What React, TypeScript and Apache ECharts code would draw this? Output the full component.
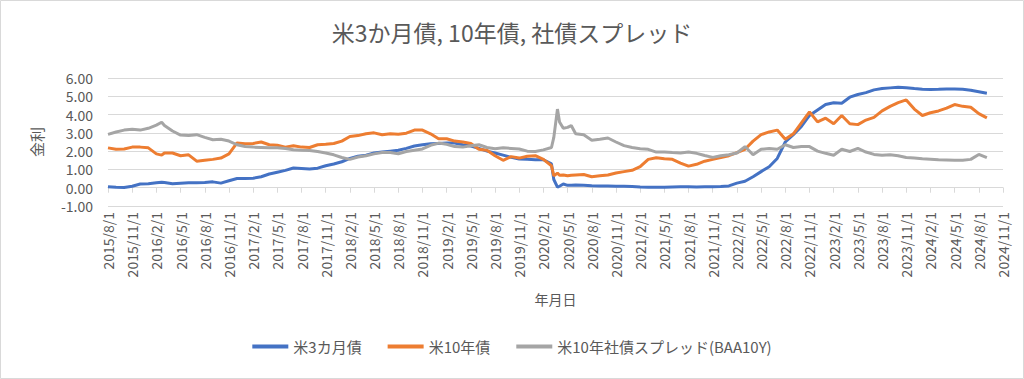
import React, { useEffect, useRef } from "react";
import * as echarts from "echarts";

// Observation dates (monthly, with a few extra points where the series move sharply)
const dates: string[] = [
  "2015-08-01", "2015-09-01", "2015-10-01", "2015-11-01", "2015-12-01",
  "2016-01-01", "2016-02-01", "2016-02-20", "2016-03-01", "2016-04-01", "2016-05-01", "2016-06-01", "2016-07-01", "2016-08-01", "2016-09-01", "2016-10-01", "2016-11-01", "2016-12-01",
  "2017-01-01", "2017-02-01", "2017-03-01", "2017-04-01", "2017-05-01", "2017-06-01", "2017-07-01", "2017-08-01", "2017-09-01", "2017-10-01", "2017-11-01", "2017-12-01",
  "2018-01-01", "2018-02-01", "2018-03-01", "2018-04-01", "2018-05-01", "2018-06-01", "2018-07-01", "2018-08-01", "2018-09-01", "2018-10-01", "2018-11-01", "2018-12-01",
  "2019-01-01", "2019-02-01", "2019-03-01", "2019-04-01", "2019-05-01", "2019-06-01", "2019-07-01", "2019-08-01", "2019-09-01", "2019-10-01", "2019-11-01", "2019-12-01",
  "2020-01-01", "2020-02-01", "2020-03-01", "2020-03-10", "2020-03-24", "2020-04-01", "2020-04-15", "2020-05-01", "2020-05-15", "2020-06-01", "2020-07-01", "2020-08-01", "2020-09-01", "2020-10-01", "2020-11-01", "2020-12-01",
  "2021-01-01", "2021-02-01", "2021-03-01", "2021-04-01", "2021-05-01", "2021-06-01", "2021-07-01", "2021-08-01", "2021-09-01", "2021-10-01", "2021-11-01", "2021-12-01",
  "2022-01-01", "2022-02-01", "2022-03-01", "2022-04-01", "2022-05-01", "2022-06-01", "2022-07-01", "2022-08-01", "2022-09-01", "2022-10-01", "2022-11-01", "2022-12-01",
  "2023-01-01", "2023-02-01", "2023-03-01", "2023-04-01", "2023-05-01", "2023-06-01", "2023-07-01", "2023-08-01", "2023-09-01", "2023-10-01", "2023-11-01", "2023-12-01",
  "2024-01-01", "2024-02-01", "2024-03-01", "2024-04-01", "2024-05-01", "2024-06-01", "2024-07-01", "2024-08-01", "2024-09-01",
];

// 米3カ月債
const bill3m: number[] = [
  0.05, 0.02, 0.01, 0.08, 0.20,
  0.22, 0.27, 0.30, 0.28, 0.22, 0.25, 0.27, 0.27, 0.28, 0.32, 0.25, 0.38, 0.50,
  0.51, 0.52, 0.60, 0.75, 0.85, 0.95, 1.08, 1.05, 1.02, 1.07, 1.20, 1.30,
  1.42, 1.60, 1.72, 1.78, 1.90, 1.95, 2.00, 2.05, 2.15, 2.28, 2.35, 2.40,
  2.42, 2.44, 2.44, 2.35, 2.28, 2.15, 2.00, 1.90, 1.78, 1.66, 1.57, 1.55,
  1.53, 1.53, 1.30, 0.45, 0.03, 0.08, 0.20, 0.13, 0.13, 0.15, 0.13, 0.11, 0.10, 0.10, 0.08, 0.08,
  0.06, 0.04, 0.03, 0.02, 0.02, 0.04, 0.05, 0.05, 0.04, 0.05, 0.05, 0.06,
  0.10, 0.25, 0.35, 0.60, 0.88, 1.15, 1.60, 2.50, 2.90, 3.35, 3.95, 4.25,
  4.55, 4.65, 4.62, 4.95, 5.10, 5.20, 5.35, 5.42, 5.46, 5.49, 5.47, 5.42,
  5.38, 5.37, 5.38, 5.40, 5.40, 5.38, 5.33, 5.25, 5.17,
];

// 米10年債
const note10y: number[] = [
  2.18, 2.10, 2.12, 2.22, 2.22,
  2.18, 1.85, 1.78, 1.90, 1.90, 1.75, 1.80, 1.45, 1.50, 1.55, 1.62, 1.85, 2.45,
  2.40, 2.42, 2.50, 2.35, 2.32, 2.22, 2.30, 2.22, 2.20, 2.35, 2.38, 2.42,
  2.55, 2.80, 2.85, 2.95, 3.00, 2.90, 2.95, 2.92, 2.98, 3.15, 3.15, 2.95,
  2.68, 2.68, 2.55, 2.50, 2.42, 2.10, 2.05, 1.75, 1.50, 1.70, 1.62, 1.72,
  1.75, 1.55, 1.20, 0.65, 0.80, 0.68, 0.70, 0.65, 0.68, 0.70, 0.72, 0.60, 0.65, 0.70, 0.80, 0.88,
  0.95, 1.15, 1.55, 1.64, 1.58, 1.55, 1.35, 1.18, 1.28, 1.45, 1.55, 1.65,
  1.75, 1.92, 2.10, 2.55, 2.90, 3.05, 3.15, 2.65, 2.95, 3.55, 4.15, 3.60,
  3.80, 3.50, 3.95, 3.50, 3.45, 3.70, 3.85, 4.20, 4.45, 4.65, 4.80, 4.30,
  3.95, 4.10, 4.20, 4.35, 4.55, 4.45, 4.40, 4.05, 3.82,
];

// 米10年社債スプレッド(BAA10Y)
const baaSpread: number[] = [
  2.92, 3.05, 3.15, 3.20, 3.15,
  3.25, 3.42, 3.58, 3.40, 3.10, 2.88, 2.85, 2.90, 2.75, 2.62, 2.65, 2.55, 2.35,
  2.25, 2.22, 2.20, 2.18, 2.18, 2.15, 2.08, 2.05, 2.04, 1.98, 1.90, 1.80,
  1.65, 1.55, 1.68, 1.75, 1.85, 1.92, 1.92, 1.86, 1.98, 2.05, 2.12, 2.32,
  2.44, 2.38, 2.25, 2.22, 2.30, 2.35, 2.20, 2.13, 2.18, 2.15, 2.12, 2.00,
  1.98, 2.07, 2.20, 2.75, 4.30, 3.60, 3.25, 3.30, 3.40, 2.95, 2.90, 2.60, 2.65, 2.72, 2.50, 2.30,
  2.20, 2.13, 2.10, 1.95, 1.95, 1.92, 1.90, 1.95, 1.88, 1.76, 1.66, 1.75,
  1.80, 1.90, 2.25, 1.80, 2.10, 2.15, 2.10, 2.35, 2.20, 2.25, 2.25, 2.00,
  1.88, 1.78, 2.10, 1.98, 2.15, 1.95, 1.82, 1.78, 1.80, 1.75, 1.65, 1.62,
  1.58, 1.56, 1.53, 1.52, 1.50, 1.50, 1.55, 1.82, 1.64,
];

const seriesNames = ["米3カ月債", "米10年債", "米10年社債スプレッド(BAA10Y)"];
const seriesColors = ["#4472C4", "#ED7D31", "#A5A5A5"];
const titleText = "米3か月債, 10年債, 社債スプレッド";
const yAxisTitle = "金利";
const xAxisTitle = "年月日";

const AXIS_START_YEAR = 2015;
const AXIS_START_MONTH = 8; // 2015/8/1
const AXIS_MONTHS = 111; // through 2024/11/1
const TICK_MONTHS = 3;

const FONT = '"Noto Sans CJK JP", "Noto Sans", sans-serif';
const TEXT_COLOR = "#595959";
const GRID_COLOR = "#d9d9d9";

function toMonthIndex(d: string): number {
  const [y, m, day] = d.split("-").map(Number);
  const dim = new Date(y, m, 0).getDate();
  return (y - AXIS_START_YEAR) * 12 + (m - AXIS_START_MONTH) + (day - 1) / dim;
}

function monthLabel(v: number): string {
  const t = AXIS_START_MONTH - 1 + Math.round(v);
  return `${AXIS_START_YEAR + Math.floor(t / 12)}/${(t % 12) + 1}/1`;
}

export default function App() {
  const ref = useRef<HTMLDivElement>(null);

  useEffect(() => {
    if (!ref.current) return;
    const chart = echarts.init(ref.current, undefined, { renderer: "svg" });
    const values = [bill3m, note10y, baaSpread];
    const xs = dates.map(toMonthIndex);

    chart.setOption({
      animation: false,
      textStyle: { fontFamily: FONT },
      title: {
        text: titleText,
        left: "center",
        top: 15,
        textStyle: { fontSize: 23, fontWeight: "normal", color: TEXT_COLOR, fontFamily: FONT },
      },
      legend: {
        data: seriesNames,
        bottom: 20,
        left: "center",
        icon: "rect",
        itemWidth: 36,
        itemHeight: 4,
        itemGap: 26,
        textStyle: { fontSize: 15, color: TEXT_COLOR, fontFamily: FONT },
      },
      graphic: [
        {
          type: "rect",
          shape: { x: 0.5, y: 0.5, width: 1023, height: 378 },
          style: { fill: "none", stroke: GRID_COLOR, lineWidth: 1 },
          silent: true,
        },
      ],
      grid: { left: 108, right: 21, top: 78, bottom: 173 },
      xAxis: [
        {
          type: "value",
          min: 0,
          max: AXIS_MONTHS,
          interval: TICK_MONTHS,
          position: "bottom",
          name: xAxisTitle,
          nameLocation: "middle",
          nameGap: 86,
          nameTextStyle: { fontSize: 14, color: TEXT_COLOR, fontFamily: FONT },
          axisLine: { show: false, onZero: false },
          axisTick: { show: false },
          splitLine: { show: false },
          axisLabel: {
            rotate: 90,
            margin: 6,
            fontSize: 14,
            color: TEXT_COLOR,
            fontFamily: FONT,
            showMinLabel: true,
            showMaxLabel: true,
            formatter: (v: number) => monthLabel(v),
          },
        },
        {
          type: "value",
          min: 0,
          max: AXIS_MONTHS,
          interval: TICK_MONTHS,
          position: "top",
          axisLine: { show: true, onZero: true, lineStyle: { color: GRID_COLOR, width: 1 } },
          axisTick: { show: true, inside: true, length: 5, lineStyle: { color: GRID_COLOR } },
          axisLabel: { show: false },
          splitLine: { show: false },
        },
      ],
      yAxis: {
        type: "value",
        min: -1,
        max: 6,
        interval: 1,
        name: yAxisTitle,
        nameLocation: "middle",
        nameGap: 64,
        nameTextStyle: { fontSize: 15, color: TEXT_COLOR, fontFamily: FONT },
        axisLine: { show: false },
        axisTick: { show: false },
        axisLabel: {
          margin: 15,
          fontSize: 14,
          lineHeight: 16,
          color: TEXT_COLOR,
          fontFamily: FONT,
          formatter: (v: number) => v.toFixed(2),
        },
        splitLine: { lineStyle: { color: GRID_COLOR, width: 1 } },
      },
      series: seriesNames.map((name, si) => ({
        name,
        type: "line",
        xAxisIndex: 0,
        showSymbol: false,
        symbol: "none",
        color: seriesColors[si],
        lineStyle: { width: 3, color: seriesColors[si] },
        data: xs.map((x, i) => [x, values[si][i]]),
      })),
    });

    return () => chart.dispose();
  }, []);

  return (
    <div
      ref={ref}
      style={{ position: "fixed", left: 0, top: 0, width: 1024, height: 379, background: "#ffffff" }}
    />
  );
}
